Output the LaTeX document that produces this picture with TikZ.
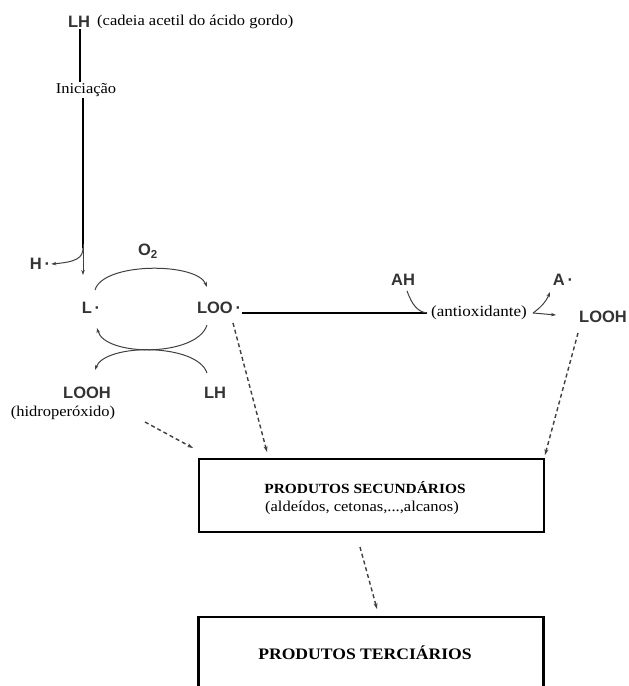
\documentclass[tikz,border=0pt]{standalone}
\usepackage{fontspec}
\setmainfont{Liberation Serif}[FakeStretch=1.1]
\newfontfamily\labfont{Liberation Sans}
\usetikzlibrary{arrows.meta}
\tikzset{
  lab/.style={font=\labfont\bfseries\fontsize{16.5}{18}\selectfont, text=black!80, inner sep=1pt},
  ser/.style={font=\fontsize{15}{17}\selectfont, inner sep=1pt},
  thickln/.style={line width=2.4pt, black},
  arc/.style={line width=1pt, black!75, -{Stealth[length=5pt,width=3.5pt]}},
  dsh/.style={line width=1.4pt, black!75, dash pattern=on 4pt off 3pt, -{Stealth[length=6pt,width=4pt]}},
  boxn/.style={draw, line width=2.2pt, minimum width=345pt, inner sep=0pt}
}
\begin{document}
\begin{tikzpicture}[x=1pt,y=-1pt]
\clip (0,0) rectangle (629,686);
\fill[white] (0,0) rectangle (629,686);
% top
\node[lab] (LH0) at (79,22) {LH};
\node[ser, anchor=west] (cad) at (96,22) {(cadeia acetil do ácido gordo)};
\node[ser] (ini) at (86,90) {Iniciação};
\draw[thickln] (LH0.south -| 80,0) -- (ini.north -| 80,0);
\coordinate (split) at (83,248);
\coordinate (Ltop) at (83,275);
\draw[thickln] (ini.south -| split) -- (split);
\draw[arc] (83,244) -- (Ltop);
\node[lab] (H) at (40,264) {H\,·};
\draw[arc] (split) .. controls (83,258) and (76,262) .. (H.east);
% cycle
\node[lab] (O2) at (148,251) {O\textsubscript{2}};
\node[lab] (L) at (91,308) {L\,·};
\node[lab] (LOO) at (219,308) {LOO\,·};
\node[lab] (LOOHl) at (87,393) {LOOH};
\node[ser] (hid) at (63,413) {(hidroperóxido)};
\node[lab] (LH1) at (215,393) {LH};
\coordinate (a1) at (95,290);
\coordinate (a2) at (207,287);
\draw[arc] (a1) .. controls (103,262) and (197,262) .. (a2);
\coordinate (b1) at (207,325);
\coordinate (b2) at (97,328);
\draw[arc] (b1) .. controls (197,357) and (105,357) .. (b2);
\coordinate (c1) at (207,373);
\coordinate (c2) at (95,370);
\draw[arc] (c1) .. controls (197,343) and (105,343) .. (c2);
% antioxidant branch
\coordinate (m) at (427,313);
\draw[thickln] (LOO.east |- m) -- (m);
\node[lab] (AH) at (403,280) {AH};
\draw[line width=1pt, black!75] (AH.south) ++(4,4) .. controls (412,305) and (418,312) .. (m);
\node[ser, font=\fontsize{15.5}{18}\selectfont, anchor=west] (anti) at (430,313) {(antioxidante)};
\node[lab] (A) at (563,280) {A\,·};
\node[lab] (LOOHr) at (603,317) {LOOH};
\coordinate (s) at (533,313);
\draw[arc] (s) .. controls (540,308) and (546,302) .. (550,292);
\draw[arc] (s) -- (556,315);
% boxes
\node[boxn, minimum height=73pt] (sec) at (371.5,495.5) {};
\node[font=\bfseries\fontsize{14}{16}\selectfont] (sect) at (365,488) {PRODUTOS SECUNDÁRIOS};
\node[ser] (sub) at (362,508) {(aldeídos, cetonas,...,alcanos)};
\node[boxn, minimum height=100pt] (ter) at (371,667) {};
\node[font=\bfseries\fontsize{16}{18}\selectfont] (tert) at (365,653) {PRODUTOS TERCIÁRIOS};
% dashed arrows
\draw[dsh] (233,323) -- (267,452);
\draw[dsh] (145,422) -- (193,448);
\draw[dsh] (578,333) -- (545,455);
\draw[dsh] (360,547) -- (377,609);
\end{tikzpicture}
\end{document}
